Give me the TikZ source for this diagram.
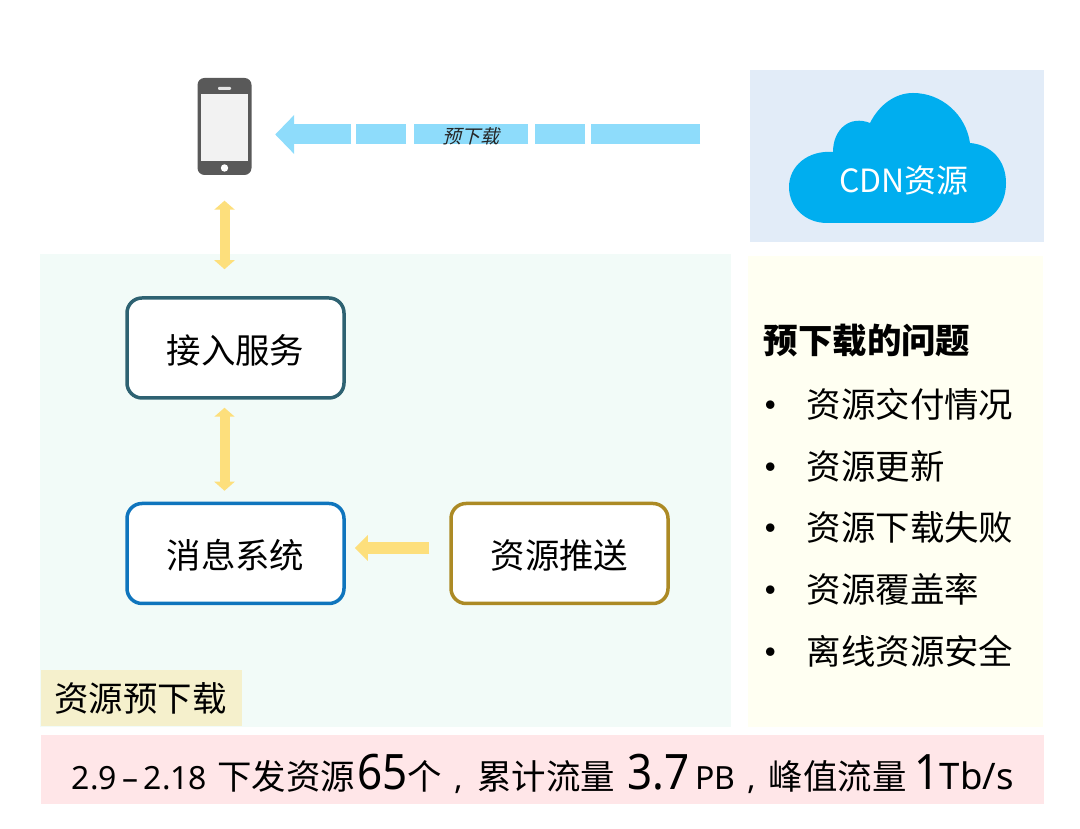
\documentclass[tikz,border=0pt]{standalone}
\usepackage{fontspec}
\setmainfont{Noto Sans CJK SC}
\newfontfamily\latinfont{Noto Sans}
\newfontfamily\narrowfont[FakeStretch=0.9]{Noto Sans}
\newfontfamily\slantfont[FakeSlant=0.25]{Noto Sans CJK SC}
\usetikzlibrary{arrows.meta}
\newcommand{\bodysize}{\fontsize{9.8}{12}\selectfont}
\newcommand{\smallnum}[1]{{\latinfont\fontsize{9.1}{12}\selectfont #1}}
\newcommand{\bignum}[1]{{\narrowfont\fontsize{13.9}{12}\selectfont #1}}
\definecolor{panelblue}{HTML}{E2ECF8}
\definecolor{panelyellow}{HTML}{FFFFF2}
\definecolor{panelgreen}{HTML}{F2FBF8}
\definecolor{panelpink}{HTML}{FFE6E8}
\definecolor{tagyellow}{HTML}{F5F0CC}
\definecolor{cloudblue}{HTML}{00AEEF}
\definecolor{arrowblue}{HTML}{8EDCFB}
\definecolor{arrowyellow}{HTML}{FDDF7C}
\definecolor{phonegray}{HTML}{595959}
\begin{document}
\begin{tikzpicture}[every node/.style={font=\bodysize, inner sep=0pt},
    svcbox/.style={draw, rounded corners=0.15cm, line width=0.035cm, fill=white,
      minimum width=2.17cm, minimum height=1.0cm, text height=0.33cm},
    listitem/.style={anchor=west},
    listdot/.style={anchor=west, font=\fontsize{11.5}{14}\selectfont},
    dualarrow/.style={draw=arrowyellow, line width=0.1cm,
      {Triangle[length=0.09cm,width=0.2cm]}-{Triangle[length=0.09cm,width=0.2cm]}},
    pusharrow/.style={draw=arrowyellow, line width=0.12cm,
      -{Triangle[length=0.13cm,width=0.25cm]}}]
    \useasboundingbox (0,0) rectangle (10.8,8.29);

    % --- background panels ---------------------------------------------
    \fill[panelblue] (7.50,5.87) rectangle (10.44,7.59);
    \fill[panelyellow] (7.48,1.02) rectangle (10.43,5.73);
    \fill[panelgreen] (0.40,1.02) rectangle (7.31,5.75);
    \fill[panelpink] (0.41,0.25) rectangle (10.44,0.94);

    % --- phone ---------------------------------------------------------
    \node[fill=phonegray, rounded corners=0.07cm, minimum width=0.54cm,
          minimum height=0.97cm] (phone) at (2.245,7.025) {};
    \node[fill=black!5, minimum width=0.475cm, minimum height=0.667cm]
      (screen) at (2.245,7.017) {};
    \node[fill=white!90!black, rounded corners=0.01cm, minimum width=0.13cm,
          minimum height=0.03cm] (speaker) at (2.245,7.405) {};
    \node[fill=white, circle, minimum size=0.074cm] (homekey) at (2.245,6.61) {};

    % --- cloud ---------------------------------------------------------
    \fill[cloudblue] (8.27,6.06) -- (9.70,6.06)
      .. controls (9.92,6.06) and (10.06,6.24) .. (10.06,6.46)
      .. controls (10.06,6.68) and (9.92,6.84) .. (9.70,6.86)
      .. controls (9.66,7.14) and (9.42,7.36) .. (9.13,7.36)
      .. controls (8.95,7.36) and (8.79,7.24) .. (8.70,7.06)
      .. controls (8.50,7.14) and (8.33,7.00) .. (8.33,6.77)
      .. controls (8.08,6.79) and (7.89,6.63) .. (7.89,6.42)
      .. controls (7.89,6.22) and (8.05,6.06) .. (8.27,6.06) -- cycle;
    \node[text=white, font=\fontsize{9.1}{12}\selectfont] (cdn) at (9.04,6.49) {CDN资源};

    % --- pre-download arrow, cut into pieces ----------------------------
    \coordinate (cdnout) at (7.00,6.945);
    \draw[arrowblue, line width=0.2cm,
          dash pattern=on 1.09cm off 0.06cm on 0.50cm off 0.07cm on 1.14cm off 0.08cm on 0.50cm off 0.05cm on 2cm,
          -{Triangle[length=0.19cm,width=0.38cm]}, shorten >=0.23cm]
      (cdnout) -- (phone.east |- cdnout);
    \node[text=black!85, font=\fontsize{5.4}{8}\slantfont] (predl) at (4.71,6.93) {预下载};

    % --- service boxes -------------------------------------------------
    \node[svcbox, draw={rgb,255:red,46;green,98;blue,114}] (access) at (2.355,4.81) {接入服务};
    \node[svcbox, draw={rgb,255:red,15;green,117;blue,189}] (msgsys) at (2.355,2.755) {消息系统};
    \node[svcbox, draw={rgb,255:red,172;green,138;blue,37}] (pusher) at (5.595,2.755) {资源推送};

    % --- connectors ----------------------------------------------------
    \draw[dualarrow, shorten <=0.25cm, shorten >=0.27cm]
      (phone.south) -- (phone.south |- access.north);
    \draw[dualarrow, shorten <=0.08cm, shorten >=0.11cm]
      (phone.south |- access.south) -- (phone.south |- msgsys.north);
    \draw[pusharrow, shorten <=0.2cm, shorten >=0.09cm]
      ([yshift=0.055cm]pusher.west) -- ([yshift=0.055cm]msgsys.east);

    % --- tag and problem list ------------------------------------------
    \node[fill=tagyellow, minimum width=2.01cm, minimum height=0.56cm]
      (tag) at (1.415,1.31) {\hspace{-0.02cm}资源预下载};
    \node[listitem, font=\bodysize\bfseries] (title) at (7.63,4.88) {预下载的问题};
    \node[listdot] (dot1) at (7.50,4.185) {\textbullet};
    \node[listitem] (item1) at (8.06,4.25) {资源交付情况};
    \node[listdot] (dot2) at (7.50,3.565) {\textbullet};
    \node[listitem] (item2) at (8.06,3.63) {资源更新};
    \node[listdot] (dot3) at (7.50,2.955) {\textbullet};
    \node[listitem] (item3) at (8.06,3.02) {资源下载失败};
    \node[listdot] (dot4) at (7.50,2.335) {\textbullet};
    \node[listitem] (item4) at (8.06,2.40) {资源覆盖率};
    \node[listdot] (dot5) at (7.50,1.715) {\textbullet};
    \node[listitem] (item5) at (8.06,1.78) {离线资源安全};

    % --- traffic summary -----------------------------------------------
    \node[anchor=base west] (summary) at (0.71,0.39)
      {\smallnum{2.9\hspace{0.055cm}–\hspace{0.055cm}2.18}\hspace{0.10cm}下发资源\hspace{0.02cm}\bignum{65}个\hspace{0.13cm}\smallnum{,}\hspace{0.14cm}累计流量\hspace{0.12cm}\bignum{3.7}\hspace{0.06cm}\smallnum{PB}\hspace{0.12cm}\smallnum{,}\hspace{0.13cm}峰值流量\hspace{0.08cm}\bignum{1}{\latinfont\fontsize{10.4}{12}\selectfont Tb/s}};
  \end{tikzpicture}
\end{document}
